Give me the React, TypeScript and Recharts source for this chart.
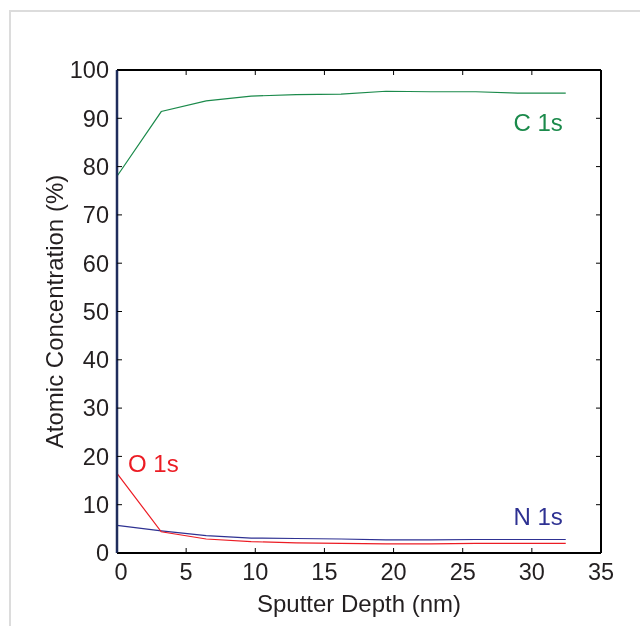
import React from 'react';
import { LineChart, Line, XAxis, YAxis, ReferenceDot, Label } from 'recharts';

const depth = [0, 3.2, 6.45, 9.7, 12.95, 16.2, 19.45, 22.7, 25.95, 29.2, 32.45];
const c1s = [78.0, 91.4, 93.6, 94.6, 94.9, 95.0, 95.6, 95.5, 95.5, 95.2, 95.2];
const o1s = [16.5, 4.4, 2.9, 2.35, 2.1, 2.0, 1.9, 1.9, 2.0, 2.0, 2.0];
const n1s = [5.7, 4.6, 3.6, 3.1, 3.0, 2.9, 2.7, 2.7, 2.8, 2.8, 2.8];
const xTicks = [0, 5, 10, 15, 20, 25, 30, 35];
const yTicks = [0, 10, 20, 30, 40, 50, 60, 70, 80, 90, 100];

const data = depth.map((d, i) => ({ depth: d, C: c1s[i], O: o1s[i], N: n1s[i] }));

const FONT = '"Liberation Sans", Arial, Helvetica, sans-serif';
const GREEN = '#1b8a4b';
const RED = '#ec1c24';
const NAVY = '#2e3192';
const TEXT = '#231f20';

const W = 632;
const H = 610;

const BottomTick = (props: any) => {
  const { x, y, payload } = props;
  const shift = payload.value === 0 ? 4 : 0;
  return (
    <text x={x + shift} y={y} dy="0.71em" textAnchor="middle" fill={TEXT} fontSize={23.5} fontFamily={FONT}>
      {payload.value}
    </text>
  );
};

const LeftTick = (props: any) => {
  const { x, y, payload } = props;
  return (
    <text x={x} y={y} dy="0.355em" textAnchor="end" fill={TEXT} fontSize={23.5} fontFamily={FONT}>
      {payload.value}
    </text>
  );
};

const NoTick = () => <g />;

const tickLineStyle = { stroke: '#000', strokeWidth: 1 };

export default function App() {
  return (
    <div style={{ position: 'relative', width: W, height: H, fontFamily: FONT }}>
      <div
        style={{
          position: 'fixed',
          left: 9,
          top: 10,
          width: 700,
          height: 700,
          borderLeft: '2px solid #dcdcdc',
          borderTop: '2px solid #dcdcdc',
          pointerEvents: 'none',
        }}
      />
      <LineChart width={W} height={H} data={data} margin={{ top: 62, right: 39, bottom: 25, left: 49 }}>
        <XAxis
          xAxisId="bottom"
          dataKey="depth"
          type="number"
          domain={[0, 35]}
          ticks={xTicks}
          orientation="bottom"
          height={40}
          tickSize={0}
          tickMargin={10}
          tick={<BottomTick />}
          stroke="#000"
          strokeWidth={2}
          tickLine={false}
          interval={0}
        >
          <Label
            content={() => (
              <text x={351} y={604} textAnchor="middle" fill={TEXT} fontSize={24} fontFamily={FONT}>
                Sputter Depth (nm)
              </text>
            )}
          />
        </XAxis>
        <XAxis
          xAxisId="bottomTicks"
          dataKey="depth"
          type="number"
          domain={[0, 35]}
          allowDataOverflow
          ticks={xTicks}
          orientation="bottom"
          mirror
          height={10}
          tickSize={5}
          tick={<NoTick />}
          axisLine={false}
          tickLine={tickLineStyle}
          interval={0}
        />
        <XAxis
          xAxisId="top"
          dataKey="depth"
          type="number"
          domain={[0, 35]}
          allowDataOverflow
          ticks={xTicks}
          orientation="top"
          mirror
          height={10}
          tickSize={5}
          tick={<NoTick />}
          stroke="#000"
          strokeWidth={2}
          tickLine={tickLineStyle}
          interval={0}
        />
        <YAxis
          yAxisId="left"
          type="number"
          domain={[0, 100]}
          ticks={yTicks}
          orientation="left"
          width={60}
          tickSize={0}
          tickMargin={8}
          tick={<LeftTick />}
          stroke="#1f2d5c"
          strokeWidth={2.5}
          tickLine={false}
          interval={0}
        >
          <Label
            content={() => (
              <text
                x={46}
                y={303.5}
                transform="rotate(-90 46 303.5)"
                textAnchor="middle"
                dominantBaseline="central"
                fill={TEXT}
                fontSize={24}
                fontFamily={FONT}
              >
                Atomic Concentration (%)
              </text>
            )}
          />
        </YAxis>
        <YAxis
          yAxisId="leftTicks"
          type="number"
          domain={[0, 100]}
          allowDataOverflow
          ticks={yTicks}
          orientation="left"
          mirror
          width={10}
          tickSize={5}
          tick={<NoTick />}
          axisLine={false}
          tickLine={tickLineStyle}
          interval={0}
        />
        <YAxis
          yAxisId="right"
          type="number"
          domain={[0, 100]}
          allowDataOverflow
          ticks={yTicks}
          orientation="right"
          mirror
          width={10}
          tickSize={5}
          tick={<NoTick />}
          stroke="#000"
          strokeWidth={2}
          tickLine={tickLineStyle}
          interval={0}
        />
        <Line xAxisId="bottom" yAxisId="left" type="linear" dataKey="C" stroke={GREEN} strokeWidth={1.2} dot={false} isAnimationActive={false} />
        <Line xAxisId="bottom" yAxisId="left" type="linear" dataKey="N" stroke={NAVY} strokeWidth={1.2} dot={false} isAnimationActive={false} />
        <Line xAxisId="bottom" yAxisId="left" type="linear" dataKey="O" stroke={RED} strokeWidth={1.2} dot={false} isAnimationActive={false} />
        <Line xAxisId="top" yAxisId="right" type="linear" dataKey="C" stroke="none" dot={false} legendType="none" isAnimationActive={false} />
        <Line xAxisId="bottomTicks" yAxisId="leftTicks" type="linear" dataKey="C" stroke="none" dot={false} legendType="none" isAnimationActive={false} />
        <ReferenceDot
          xAxisId="bottom"
          yAxisId="left"
          x={32.45}
          y={89.1}
          r={0}
          fill="none"
          stroke="none"
          label={{ value: 'C 1s', position: 'left', offset: 3, fill: GREEN, fontSize: 24, fontFamily: FONT }}
        />
        <ReferenceDot
          xAxisId="bottom"
          yAxisId="left"
          x={32.45}
          y={7.66}
          r={0}
          fill="none"
          stroke="none"
          label={{ value: 'N 1s', position: 'left', offset: 3, fill: NAVY, fontSize: 24, fontFamily: FONT }}
        />
        <ReferenceDot
          xAxisId="bottom"
          yAxisId="left"
          x={0}
          y={18.6}
          r={0}
          fill="none"
          stroke="none"
          label={{ value: 'O 1s', position: 'right', offset: 11, fill: RED, fontSize: 24, fontFamily: FONT }}
        />
      </LineChart>
    </div>
  );
}
